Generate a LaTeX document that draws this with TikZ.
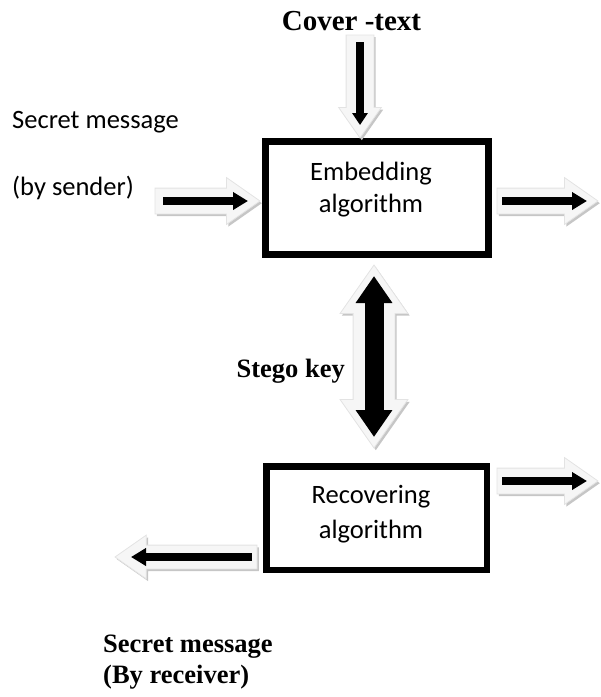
\documentclass[tikz,border=0pt]{standalone}
\usepackage{fontspec}
\setmainfont{Liberation Serif}
\newfontfamily\calib{Carlito}
\usetikzlibrary{shapes.arrows,shadows,arrows.meta}

\begin{document}
\begin{tikzpicture}[x=1pt,y=-1pt,
  % pale block arrow with a soft grey shadow
  blockbase/.style={draw=gray!22, fill=gray!7, line width=0.8pt,
    outer sep=0pt, minimum width=0pt,
    drop shadow={shadow xshift=1.8pt, shadow yshift=-2.2pt, fill=gray!45, opacity=1}},
  blockarrow/.style={blockbase, single arrow, single arrow tip angle=70},
  blockdouble/.style={blockbase, double arrow, double arrow tip angle=70},
  % solid black arrow laid inside a block arrow
  innerarrow/.style={black, line width=7.5pt, -{Triangle[width=17pt,length=15pt]}},
  procbox/.style={draw=black, fill=white, inner sep=0pt},
  sanslabel/.style={font=\calib\fontsize{26.5}{32}\selectfont, inner sep=0pt},
  seriflabel/.style={font=\bfseries\fontsize{26.5}{32}\selectfont, inner sep=0pt},
]
\useasboundingbox (0,0) rectangle (601,697);

% processing boxes
\node[procbox, line width=7pt, minimum width=223pt, minimum height=113pt] (emb) at (377,198) {};
\node[procbox, line width=6.5pt, minimum width=220.5pt, minimum height=103.5pt] (rec) at (376.5,518) {};

\node[sanslabel, anchor=base] (emb1) at (371,180) {Embedding};
\node[sanslabel, anchor=base] (emb2) at (371,212) {algorithm};
\node[sanslabel, anchor=base] (rec1) at (371,503) {Recovering};
\node[sanslabel, anchor=base] (rec2) at (371,538) {algorithm};

% outer labels
\node[seriflabel, font=\bfseries\fontsize{29}{34}\selectfont, anchor=base] (cover) at (351.5,30) {Cover -text};
\node[sanslabel, anchor=base west] (sm1) at (12,128) {Secret message};
\node[sanslabel, anchor=base west] (sm2) at (12,195) {(by sender)};
\node[seriflabel, anchor=base east] (key) at (345,377) {Stego key};
\node[seriflabel, anchor=base west] (rm1) at (103,652) {Secret message};
\node[seriflabel, anchor=base west] (rm2) at (103,683) {(By receiver)};

% block arrows: shaft = 2 x inner sep, head = shaft + 2 x head extend
\node[blockarrow, shape border rotate=270, minimum height=103pt, inner sep=13.5pt,
      single arrow head extend=7.5pt, anchor=tip] (ain) at (360,138) {};
\node[blockarrow, minimum height=105pt, inner sep=12.5pt,
      single arrow head extend=10.5pt, anchor=tip] (amsg) at (260,201) {};
\node[blockarrow, minimum height=101pt, inner sep=12.5pt,
      single arrow head extend=10.5pt, anchor=tail] (aout1) at (497,201) {};
\node[blockarrow, minimum height=101pt, inner sep=12.5pt,
      single arrow head extend=10.5pt, anchor=tail] (aout2) at (497,481) {};
\node[blockarrow, shape border rotate=180, minimum height=142pt, inner sep=11.5pt,
      single arrow head extend=10pt, anchor=tip] (aback) at (115,557) {};
\node[blockdouble, shape border rotate=90, minimum height=183pt, inner sep=20.5pt,
      double arrow head extend=13pt] (akey) at (374,356.5) {};

% black arrows inside
\draw[innerarrow, line width=8pt, -{Triangle[width=15pt,length=12pt]},
      shorten <=7pt, shorten >=13pt] (ain.tail) -- (ain.tip);
\draw[innerarrow, shorten <=8pt, shorten >=12pt] (amsg.tail) -- (amsg.tip);
\draw[innerarrow, shorten <=5pt, shorten >=11pt] (aout1.tail) -- (aout1.tip);
\draw[innerarrow, shorten <=5pt, shorten >=11pt] (aout2.tail) -- (aout2.tip);
\draw[innerarrow, shorten <=5pt, shorten >=16pt] (aback.tail) -- (aback.tip);
\draw[black, line width=19pt, {Triangle[width=35pt,length=27pt]}-{Triangle[width=35pt,length=27pt]},
      shorten <=11pt, shorten >=11pt] (akey.tip 1) -- (akey.tip 2);
\end{tikzpicture}
\end{document}
